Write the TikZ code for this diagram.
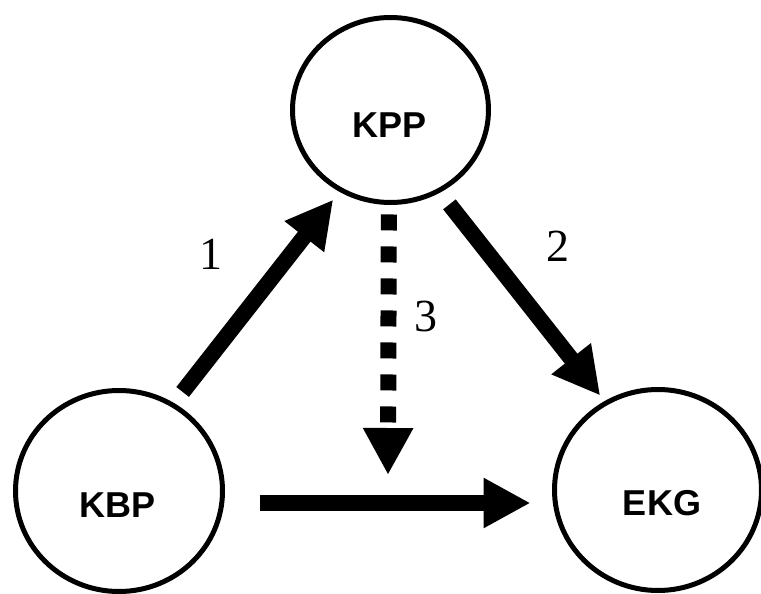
\documentclass[tikz,border=0pt]{standalone}
\usepackage{fontspec}
\setmainfont{Liberation Serif}
\setsansfont{Liberation Sans}
\usetikzlibrary{arrows.meta,shapes.geometric}
\begin{document}
\begin{tikzpicture}[x=1pt,y=1pt,
  circ/.style={ellipse,draw=black,line width=5pt,inner sep=0pt},
  lbl/.style={font=\sffamily\bfseries\fontsize{36}{40}\selectfont,inner sep=0pt},
  num/.style={font=\rmfamily\fontsize{46}{50}\selectfont,inner sep=0pt},
  arr/.style={line width=16pt,-{Triangle[length=47pt,width=47pt]}},
  darr/.style={arr,dash pattern=on 16pt off 16pt}]
\useasboundingbox (0,0) rectangle (761,-594);
\begin{scope}
\clip (0,0) rectangle (761,-594);
\node[circ,minimum width=196pt,minimum height=185pt] (KPP) at (390.5,-110) {};
\node[circ,minimum width=207pt,minimum height=201pt] (KBP) at (119,-491) {};
\node[circ,minimum width=207pt,minimum height=201pt] (EKG) at (658,-490) {};
\end{scope}
\node[lbl] (KPPt) at (390,-125) {KPP};
\node[lbl] (KBPt) at (118,-505) {KBP};
\node[lbl] (EKGt) at (662,-503) {EKG};
\draw[arr,shorten <=14pt,shorten >=10pt] (KBP.58) -- (KPP.-122);
\draw[arr,shorten <=15pt,shorten >=7pt] (KPP.-59) -- (EKG.121);
\coordinate (d3end) at (388,-475);
\draw[darr,shorten <=9.5pt] (KPP.-91.4) -- (d3end);
\draw[arr,shorten <=34.5pt,shorten >=21.5pt] ([yshift=-12pt]KBP.east) -- ([yshift=-13pt]EKG.west);
\node[num] (n1) at (211,-254) {1};
\node[num] (n2) at (558,-246) {2};
\node[num] (n3) at (426,-316) {3};
\end{tikzpicture}
\end{document}
